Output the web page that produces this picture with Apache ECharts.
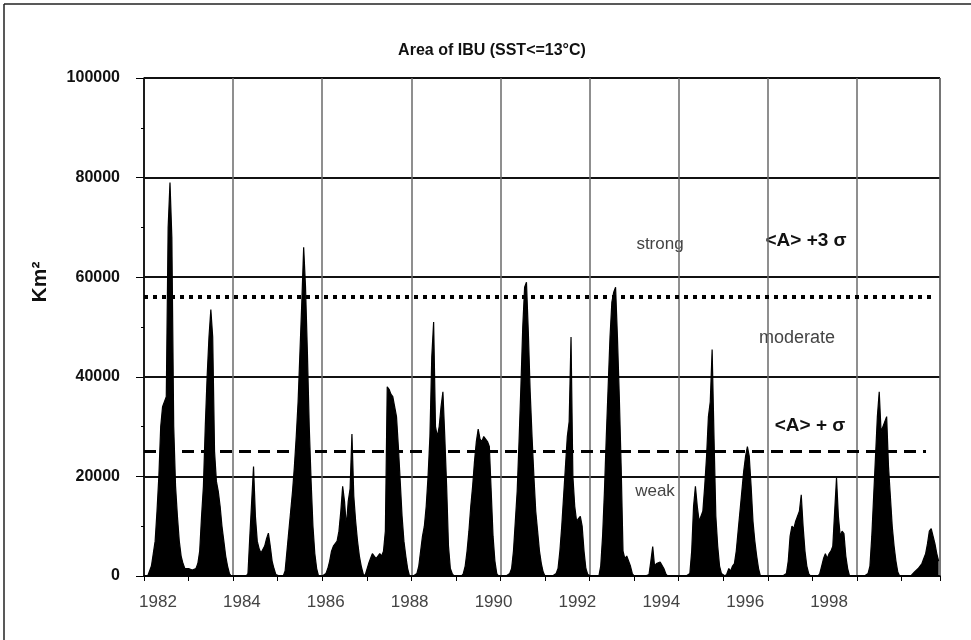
<!DOCTYPE html>
<html><head><meta charset="utf-8">
<script src="https://cdn.jsdelivr.net/npm/echarts@6/dist/echarts.min.js"></script>
<style>html,body{margin:0;padding:0;background:#fff}#c{width:971px;height:640px}</style>
</head><body><div id="c"></div>
<script>
// ---- data (area of IBU, km^2), half-monthly samples starting Jan 1982 ----
const startYear = 1982;
const samplesPerYear = 24;
const area1982 = [0,0,0,300,2000,4500,7000,13000,20000,30000,34000,35000,36000,70000,79000,68000,30000,18000,12000,7000,4000,2500,1500,1500];
const area1983 = [1500,1500,1200,1200,1500,2500,5000,12000,18000,30000,40000,48000,53500,48000,25000,19000,17000,14000,10000,7000,4000,2000,500,0];
const area1984 = [0,0,0,0,0,0,0,0,500,8000,15000,22000,12000,7000,5500,4600,5000,6000,7500,8600,6000,3000,1500,300];
const area1985 = [0,0,0,0,1000,5000,9000,13000,17000,22000,28000,35000,45000,55000,66000,58000,45000,30000,19000,10000,4500,1500,0,0];
const area1986 = [0,0,500,1500,3000,5000,6000,6000,7000,9000,13000,18000,15000,10000,15000,17500,28500,16000,11000,7000,4000,2000,500,0];
const area1987 = [0,2500,3500,4500,4000,3500,4000,4500,4000,5000,9000,38000,37500,36500,36000,34000,32000,26000,19000,12000,7000,4000,1500,0];
const area1988 = [0,0,0,500,2000,5000,8000,10000,14000,20000,28000,44000,51000,30000,28000,30000,34000,37000,28000,18000,6000,1500,500,0];
const area1989 = [0,0,0,0,500,2000,5000,9000,14000,18000,23000,27000,29500,27500,27000,28000,27500,27000,26000,17000,8000,3000,500,0];
const area1990 = [0,0,0,0,0,500,1500,5000,11000,17000,27000,38000,50000,58000,59000,49000,37000,28000,20000,13000,9000,5000,2500,800];
const area1991 = [0,0,0,0,0,0,500,1500,5000,10000,16000,22000,28000,31000,48000,20000,14000,11000,11500,12000,10000,5000,1500,300];
const area1992 = [0,0,0,0,0,0,2000,8000,17000,28000,38000,48000,55000,57000,58000,48000,36000,22000,5000,3500,4000,3800,2000,500];
const area1993 = [0,0,0,0,0,0,0,0,300,3000,5900,2000,2500,2600,2800,2500,1500,500,0,0,0,0,0,0];
const area1994 = [0,0,0,0,0,0,500,5000,14000,18000,14000,11000,11000,13000,18000,24000,32000,35000,45500,28000,12000,6000,2000,500];
const area1995 = [200,0,500,1500,1000,2000,2500,5000,9000,13000,17000,21000,24000,26000,24000,18000,11000,7000,4000,1500,0,0,0,0];
const area1996 = [0,0,0,0,0,0,0,0,0,0,500,3000,8000,10000,9500,11000,12000,13000,16300,10000,5000,2000,500,0];
const area1997 = [0,0,0,0,500,2000,3500,4500,3500,4500,5000,6000,13000,19700,12000,8000,9000,8500,4000,1500,0,0,0,0];
const area1998 = [0,0,0,0,0,0,500,2000,8000,16000,24000,32000,37000,29000,30000,31000,32000,22000,16000,10000,6000,3000,800,0];
const area1999 = [0,0,0,0,0,0,300,800,1200,1500,2000,2500,3500,4500,6500,9000,9500,8000,6500,4500,3000];

const areaByYear = [area1982,area1983,area1984,area1985,area1986,area1987,area1988,area1989,area1990,
  area1991,area1992,area1993,area1994,area1995,area1996,area1997,area1998,area1999];

const yearLabels = [1982,1984,1986,1988,1990,1992,1994,1996,1998];
const strongThreshold = 56000;   // <A> + 3 sigma
const moderateThreshold = 25000; // <A> + sigma

// ---- build series ----
const seriesData = [];
areaByYear.forEach((arr, k) => {
  arr.forEach((v, i) => seriesData.push([startYear + k + i / samplesPerYear, v]));
});

const FONT = '"Liberation Sans Narrow","Arial Narrow","Liberation Sans",Arial,sans-serif';

const chart = echarts.init(document.getElementById('c'), null, {renderer: 'canvas'});
chart.setOption({
  animation: false,
  backgroundColor: '#fff',
  title: {
    text: 'Area of IBU (SST<=13°C)',
    left: 487, top: 38, textAlign: 'center',
    textStyle: {fontFamily: FONT, fontWeight: 'bold', fontSize: 16, color: '#111'}
  },
  grid: {left: 144, right: 31, top: 78, bottom: 64, show: true, borderColor: '#333', borderWidth: 1, backgroundColor: 'transparent'},
  xAxis: [{
    type: 'value', min: 1982, max: 1999.864, interval: 2,
    axisLine: {show: true, onZero: false, lineStyle: {color: '#000', width: 1.5}},
    axisTick: {show: true, length: 5, lineStyle: {color: '#000', width: 1}},
    minorTick: {show: true, splitNumber: 2, length: 5, lineStyle: {color: '#000', width: 1}},
    axisLabel: {show: false},
    splitLine: {show: true, lineStyle: {color: '#6a6a6a', width: 1.5}}
  }, {
    type: 'value', min: 1981.666, max: 2000.645, position: 'bottom',
    axisLine: {show: false}, axisTick: {show: false}, splitLine: {show: false},
    axisLabel: {show: true, customValues: yearLabels, formatter: v => String(v),
      fontFamily: FONT, fontSize: 17, color: '#444', margin: 18}
  }],
  yAxis: {
    type: 'value', min: 0, max: 100000, interval: 20000,
    axisLine: {show: true, lineStyle: {color: '#000', width: 1.5}},
    axisTick: {show: true, length: 8, lineStyle: {color: '#000', width: 1}},
    minorTick: {show: true, splitNumber: 2, length: 3, lineStyle: {color: '#000', width: 1}},
    splitLine: {show: true, lineStyle: {color: '#111', width: 2}},
    axisLabel: {formatter: v => String(v), fontFamily: FONT, fontWeight: 'bold', fontSize: 16, color: '#111', margin: 24}
  },
  series: [{
    type: 'line', data: seriesData, xAxisIndex: 0, yAxisIndex: 0,
    symbol: 'none', sampling: null, smooth: false,
    lineStyle: {color: '#000', width: 1.2},
    areaStyle: {color: '#000', opacity: 1},
    z: 3,
    markLine: {
      silent: true, symbol: 'none', label: {show: false},
      data: [
        [{coord: [1982, strongThreshold], lineStyle: {type: [4, 5], width: 4, color: '#000'}}, {coord: [1999.73, strongThreshold]}],
        [{coord: [1982, moderateThreshold], lineStyle: {type: [12, 7], width: 3, color: '#000'}}, {coord: [1999.55, moderateThreshold]}]
      ]
    }
  }],
  graphic: [
    {type: 'line', shape: {x1: 4, y1: 4, x2: 971, y2: 4}, style: {stroke: '#222', lineWidth: 1.5}},
    {type: 'line', shape: {x1: 4, y1: 4, x2: 4, y2: 640}, style: {stroke: '#222', lineWidth: 1.5}},
    {type: 'text', x: 40, y: 282, rotation: Math.PI / 2,
      style: {text: 'Km²', fontFamily: '"Liberation Sans",Arial,sans-serif', fontWeight: 'bold', fontSize: 21, fill: '#111', align: 'center', verticalAlign: 'middle'}},
    {type: 'text', x: 660, y: 244, style: {text: 'strong', fontFamily: FONT, fontSize: 17, fill: '#444', align: 'center', verticalAlign: 'middle'}},
    {type: 'text', x: 806, y: 241, style: {text: '<A> +3 σ', fontFamily: FONT, fontWeight: 'bold', fontSize: 19, fill: '#111', align: 'center', verticalAlign: 'middle'}},
    {type: 'text', x: 797, y: 338, style: {text: 'moderate', fontFamily: FONT, fontSize: 18, fill: '#444', align: 'center', verticalAlign: 'middle'}},
    {type: 'text', x: 810, y: 426, style: {text: '<A> + σ', fontFamily: FONT, fontWeight: 'bold', fontSize: 19, fill: '#111', align: 'center', verticalAlign: 'middle'}},
    {type: 'text', x: 655, y: 491, style: {text: 'weak', fontFamily: FONT, fontSize: 17, fill: '#444', align: 'center', verticalAlign: 'middle'}}
  ]
});
</script></body></html>
